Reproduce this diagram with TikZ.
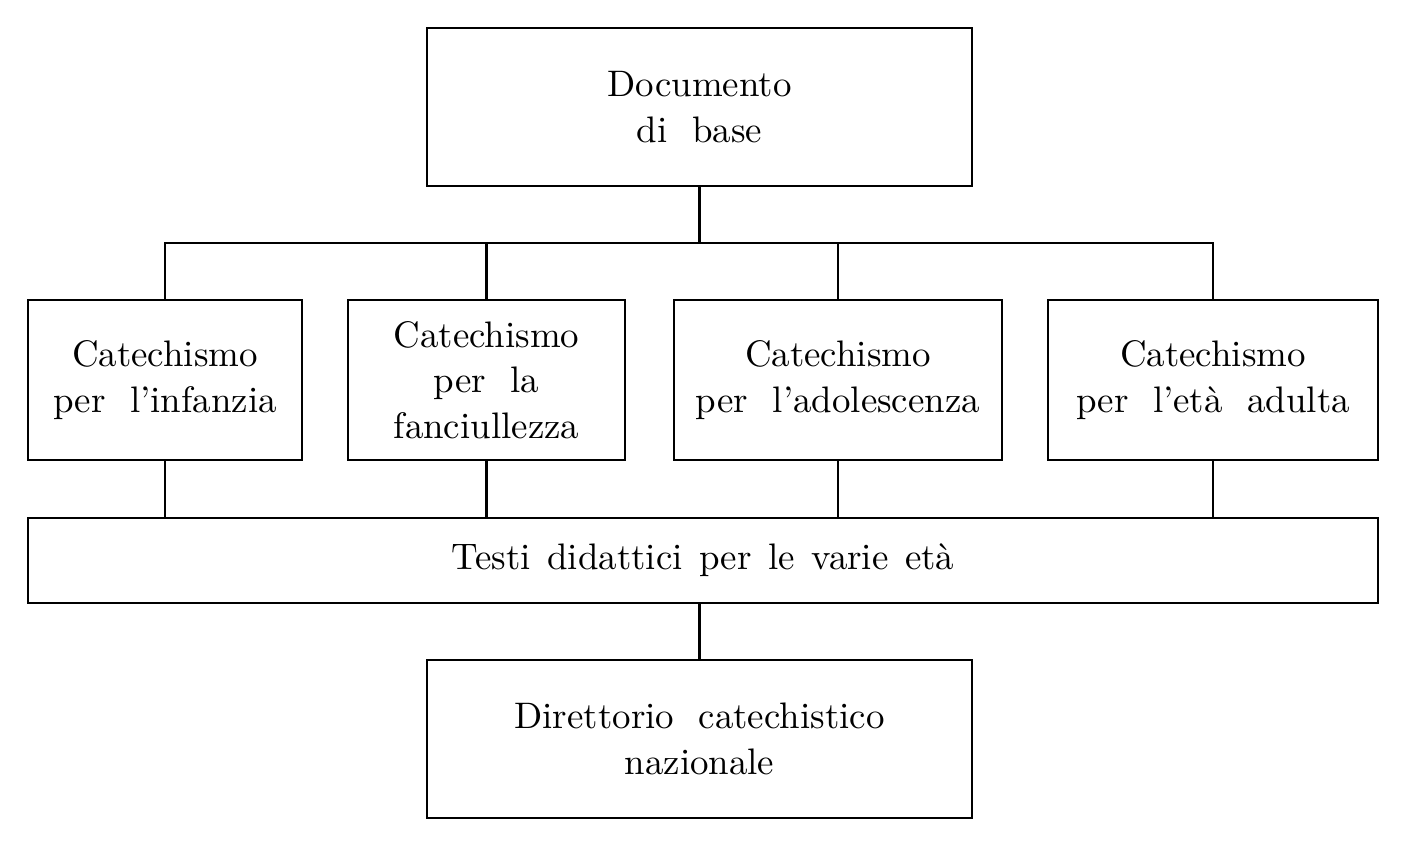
\documentclass[tikz,border=0pt]{standalone}
\begin{document}
\begin{tikzpicture}[line width=.6pt,
    box/.style={draw, align=center, inner sep=0pt, font=\fontsize{10.5}{13}\selectfont},
    catbox/.style={box, minimum height=1.6cm}]
    \useasboundingbox (0,0) rectangle (14.02,8.43);
    % livello superiore
    \node[box, minimum width=5.45cm, minimum height=1.58cm] (doc) at (6.995,7.36) {Documento\\ di\ \ base};
    \coordinate (bus) at (0,6.0);
    % catechismi
    \node[catbox, minimum width=2.74cm] (cat1) at (1.65,4.63) {Catechismo\\ per\ \ l'infanzia};
    \node[catbox, minimum width=2.77cm] (cat2) at (4.865,4.63) {Catechismo\\ per\ \ la\\ fanciullezza};
    \node[catbox, minimum width=3.28cm] (cat3) at (8.38,4.63) {Catechismo\\ per\ \ l'adolescenza};
    \node[catbox, minimum width=3.30cm] (cat4) at (12.13,4.63) {Catechismo\\ per\ \ l'età\ \ adulta};
    % testi e direttorio
    \node[box, minimum width=13.5cm, minimum height=.85cm] (testi) at (7.03,2.825)
        {Testi\hspace{.45em}didattici\hspace{.45em}per\hspace{.45em}le\hspace{.45em}varie\hspace{.45em}età};
    \node[box, minimum width=5.45cm, minimum height=1.58cm] (dir) at (6.995,1.04) {Direttorio\ \ catechistico\\ nazionale};
    % collegamenti
    \draw (doc.south) -- (doc.south |- bus);
    \draw (cat1.north) -- (cat1.north |- bus) -- (cat4.north |- bus) -- (cat4.north);
    \foreach \c in {cat2,cat3}
        \draw (\c.north) -- (\c.north |- bus);
    \foreach \c in {cat1,cat2,cat3,cat4}
        \draw (\c.south) -- (\c.south |- testi.north);
    \draw (dir.north) -- (dir.north |- testi.south);
\end{tikzpicture}
\end{document}
